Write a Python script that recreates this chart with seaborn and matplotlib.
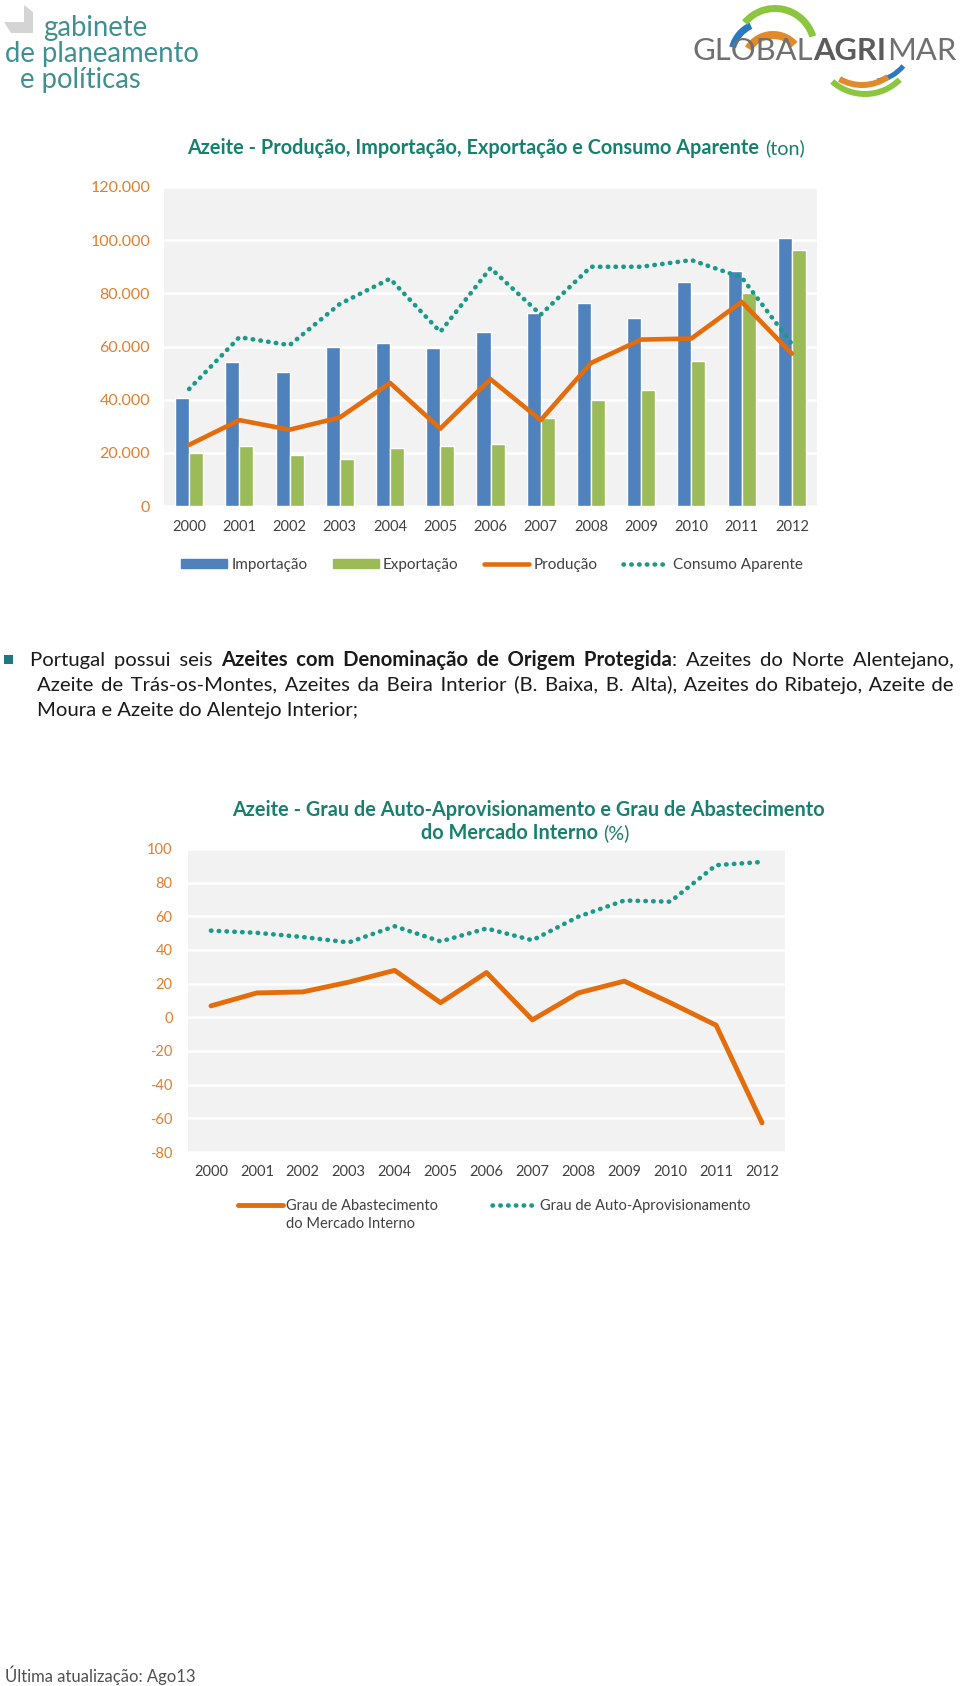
import matplotlib
matplotlib.use("Agg")
import matplotlib.pyplot as plt
import seaborn as sns
import numpy as np
import pandas as pd
from matplotlib.patches import Wedge, Polygon, Rectangle, Patch
from matplotlib.lines import Line2D
from matplotlib.ticker import FuncFormatter

# ---- data ----
years = ['2000', '2001', '2002', '2003', '2004', '2005', '2006',
         '2007', '2008', '2009', '2010', '2011', '2012']
importacao = [40800, 54100, 50500, 59800, 61400, 59400, 65400, 72700, 76400, 70700, 84400, 88500, 101000]
exportacao = [19800, 22600, 19000, 17800, 21800, 22600, 23400, 33100, 40000, 43600, 54500, 80200, 96300]
producao = [23000, 32300, 28700, 33300, 46300, 29100, 47700, 32300, 53800, 62600, 63000, 76800, 57300]
consumo = [44000, 63500, 60500, 76000, 85500, 65500, 89500, 72000, 90000, 90000, 92500, 86000, 61000]

abastecimento = [6.8, 14.5, 15.1, 20.9, 27.9, 8.7, 26.6, -1.5, 14.5, 21.5, 8.7, -4.7, -62.7]
auto_aprov = [51.5, 50.2, 47.7, 44.5, 54.1, 45.1, 52.8, 45.8, 59.8, 69.4, 68.7, 90.4, 92.3]

BLUE = '#4f81bd'
GREEN = '#9bbb59'
ORANGE = '#e46c0a'
TEAL = '#1b9a8a'
TITLE = '#17806f'
TICK_OR = '#e07f2e'
GREY_TXT = '#404040'
BAND = '#f2f2f2'
DOTS = (0, (0.1, 1.6))
HAIR = '\u200a'

sns.set_style("white")
plt.rcParams['font.family'] = ['Lato', 'DejaVu Sans']
plt.rcParams['axes.unicode_minus'] = False

W, H = 960, 1686
fig = plt.figure(figsize=(W / 100, H / 100), dpi=100)
fig.patch.set_facecolor('white')

# overlay in pixel coordinates (y down) for page text and logos
ov = fig.add_axes([0, 0, 1, 1])
ov.set_xlim(0, W)
ov.set_ylim(H, 0)
ov.axis('off')


def px_axes(left, top, right, bottom):
    return fig.add_axes([left / W, 1 - bottom / H, (right - left) / W, (bottom - top) / H])


fig.canvas.draw()
renderer = fig.canvas.get_renderer()


def text_w(s, size, weight='normal'):
    t = ov.text(0, 0, s, fontsize=size, fontweight=weight)
    w = t.get_window_extent(renderer=renderer).width
    t.remove()
    return w


def space_w(size, weight='normal'):
    return text_w('n n', size, weight) - text_w('nn', size, weight)


def hair_w(size, weight='normal'):
    return (text_w('n' + HAIR * 10 + 'n', size, weight) - text_w('nn', size, weight)) / 10


def words(s, weight='normal'):
    return [(w, weight, False) for w in s.split()]


def segments(tokens, extra):
    # group tokens into runs of equal weight; extra[i] = hair spaces in gap i
    segs, gaps = [], []
    g = 0
    for i, (txt, wt, attach) in enumerate(tokens):
        sep = ''
        if i > 0 and not attach:
            sep = ' ' + HAIR * extra[g]
            g += 1
        if segs and segs[-1][1] == wt:
            segs[-1][0] += sep + txt
        else:
            segs.append([txt, wt])
            gaps.append(sep)
    return segs, gaps


def sep_w(sep, size):
    if not sep:
        return 0.0
    return space_w(size) + (len(sep) - 1) * hair_w(size)


def line_w(tokens, size, extra=None):
    n = sum(1 for i, t in enumerate(tokens) if i > 0 and not t[2])
    segs, gaps = segments(tokens, extra or [0] * n)
    return sum(text_w(s, size, w) for s, w in segs) + sum(sep_w(g, size) for g in gaps)


def draw_line(x, y, tokens, size, color, extra=None):
    # y is the baseline
    n = sum(1 for i, t in enumerate(tokens) if i > 0 and not t[2])
    segs, gaps = segments(tokens, extra or [0] * n)
    for (s, w), g in zip(segs, gaps):
        x += sep_w(g, size)
        ov.text(x, y, s, fontsize=size, fontweight=w, color=color, va='baseline', ha='left')
        x += text_w(s, size, w)


def draw_centered(cx, y, tokens, size, color):
    draw_line(cx - line_w(tokens, size) / 2, y, tokens, size, color)


def draw_justified(x0, x1, y, tokens, size, color):
    n = sum(1 for i, t in enumerate(tokens) if i > 0 and not t[2])
    total = int(round((x1 - x0 - line_w(tokens, size)) / hair_w(size)))
    total = max(total, 0)
    extra = [total // n + (1 if i < total % n else 0) for i in range(n)]
    draw_line(x0, y, tokens, size, color, extra)


def fit_size(tokens, width, ref=10):
    return ref * width / line_w(tokens, ref)


# ---- logos ----
ov.add_patch(Polygon([(4, 22), (24, 22), (24, 5), (33, 12), (33, 33), (11, 33)],
                     closed=True, color='#d4d4d4', lw=0))
logo_c = '#3f9091'
ls = fit_size(words('de planeamento'), 195)
draw_line(43, 36, words('gabinete'), ls, logo_c)
draw_line(5, 62, words('de planeamento'), ls, logo_c)
draw_line(20, 88, words('e políticas'), ls, logo_c)

ov.add_patch(Wedge((765, 56), 37, 195, 245, width=7, color='#2a78c2', lw=0))
ov.add_patch(Wedge((773, 64), 33, 212, 318, width=8, color='#e08a2a', lw=0))
ov.add_patch(Wedge((775, 48), 43, 220, 343, width=7, color='#8cc63f', lw=0))
ov.add_patch(Wedge((870, 38), 46, 40, 80, width=5, color='#2a78c2', lw=0))
ov.add_patch(Wedge((862, 40), 48, 55, 120, width=6, color='#e08a2a', lw=0))
ov.add_patch(Wedge((865, 45), 52, 45, 132, width=6, color='#8cc63f', lw=0))
glob = [('GLOBAL', 'normal', False), ('AGRI', 'bold', True), ('MAR', 'normal', True)]
gs = fit_size(glob, 262)
x = 693
for s, w, _ in glob:
    ov.text(x, 60, s, fontsize=gs, fontweight=w, va='baseline', ha='left',
            color='#5c5c5c' if w == 'bold' else '#707070')
    x += text_w(s, gs, w)

# ---- chart 1 ----
t1 = words('Azeite - Produção, Importação, Exportação e Consumo Aparente', 'bold') + words('(ton)')
ts = fit_size(t1, 615)
draw_centered(496, 154, t1, ts, TITLE)

ax1 = px_axes(164, 187, 817, 506)
ax1.set_facecolor(BAND)
df = pd.DataFrame({
    'ano': years * 2,
    'valor': importacao + exportacao,
    'serie': ['Importação'] * len(years) + ['Exportação'] * len(years),
})
sns.barplot(data=df, x='ano', y='valor', hue='serie', palette=[BLUE, GREEN],
            width=0.56, saturation=1, legend=False, ax=ax1, zorder=2)
pos = np.arange(len(years))
sns.lineplot(x=pos, y=producao, color=ORANGE, linewidth=3.3, ax=ax1, zorder=3)
sns.lineplot(x=pos, y=consumo, color=TEAL, linewidth=3.3, linestyle=DOTS,
             dash_capstyle='round', ax=ax1, zorder=3)
ax1.set_xlim(-0.5, len(years) - 0.5)
ax1.set_ylim(0, 120000)
ax1.set_yticks(np.arange(0, 120001, 20000))
ax1.yaxis.set_major_formatter(FuncFormatter(lambda v, p: f"{int(v):,}".replace(',', '.')))
ax1.set_xticks(pos)
ax1.set_xticklabels(years)
ax1.set_xlabel('')
ax1.set_ylabel('')
ax1.yaxis.grid(True, color='white', linewidth=1.8)
ax1.set_axisbelow(True)
for sp in ax1.spines.values():
    sp.set_visible(False)
ax1.tick_params(axis='y', length=0, pad=10, labelsize=11.5, labelcolor=TICK_OR)
ax1.tick_params(axis='x', length=0, pad=10, labelsize=10.5, labelcolor=GREY_TXT)

h1 = [Patch(color=BLUE), Patch(color=GREEN),
      Line2D([], [], color=ORANGE, lw=3.3),
      Line2D([], [], color=TEAL, lw=3.3, linestyle=DOTS, dash_capstyle='round')]
fig.legend(h1, ['Importação', 'Exportação', 'Produção', 'Consumo Aparente'],
           loc='center', bbox_to_anchor=(492 / W, 1 - 565 / H), ncol=4, frameon=False,
           fontsize=11, handlelength=3.0, handleheight=0.6, handletextpad=0.27,
           columnspacing=1.65, labelcolor=GREY_TXT)

# ---- paragraph ----
l1 = (words('Portugal possui seis') + words('Azeites com Denominação de Origem Protegida', 'bold')
      + [(':', 'normal', True)] + words('Azeites do Norte Alentejano,'))
l2 = words('Azeite de Trás-os-Montes, Azeites da Beira Interior (B. Baixa, B. Alta), '
           'Azeites do Ribatejo, Azeite de')
l3 = words('Moura e Azeite do Alentejo Interior;')
ps = fit_size(l2, 0.965 * (954 - 37))
ov.add_patch(Rectangle((4, 655), 9, 9, color='#1f7a80', lw=0))
draw_justified(30, 954, 666, l1, ps, '#1a1a1a')
draw_justified(37, 954, 691, l2, ps, '#1a1a1a')
draw_line(37, 716, l3, ps, '#1a1a1a')

# ---- chart 2 ----
t2a = words('Azeite - Grau de Auto-Aprovisionamento e Grau de Abastecimento', 'bold')
t2b = words('do Mercado Interno', 'bold') + words('(%)')
draw_centered(528, 816, t2a, ts, TITLE)
draw_centered(525, 839, t2b, ts, TITLE)

ax2 = px_axes(188, 849, 785, 1152)
ax2.set_facecolor(BAND)
sns.lineplot(x=pos, y=abastecimento, color=ORANGE, linewidth=3.5, ax=ax2, zorder=3)
sns.lineplot(x=pos, y=auto_aprov, color=TEAL, linewidth=3.3, linestyle=DOTS,
             dash_capstyle='round', ax=ax2, zorder=3)
ax2.set_xlim(-0.5, len(years) - 0.5)
ax2.set_ylim(-80, 100)
ax2.set_yticks(np.arange(-80, 101, 20))
ax2.set_xticks(pos)
ax2.set_xticklabels(years)
ax2.yaxis.grid(True, color='white', linewidth=1.8)
ax2.set_axisbelow(True)
for sp in ax2.spines.values():
    sp.set_visible(False)
ax2.tick_params(axis='y', length=0, pad=11, labelsize=10.5, labelcolor=TICK_OR)
ax2.tick_params(axis='x', length=0, pad=9, labelsize=10.5, labelcolor=GREY_TXT)

h2 = [Line2D([], [], color=ORANGE, lw=3.5),
      Line2D([], [], color=TEAL, lw=3.3, linestyle=DOTS, dash_capstyle='round')]
leg2 = fig.legend(h2, ['Grau de Abastecimento', 'Grau de Auto-Aprovisionamento'],
                  loc='center', bbox_to_anchor=(494 / W, 1 - 1206 / H), ncol=2, frameon=False,
                  fontsize=10.5, handlelength=3.1, handletextpad=0.2, columnspacing=3.7,
                  labelcolor=GREY_TXT)
fig.canvas.draw()
bb = leg2.get_texts()[0].get_window_extent(renderer=fig.canvas.get_renderer())
ov.text(bb.x0, H - (bb.y0 + bb.y1) / 2 + 18, 'do Mercado Interno', fontsize=10.5,
        color=GREY_TXT, va='center', ha='left')

# ---- footer ----
ov.text(5, 1675, 'Última atualização: Ago13', fontsize=12, color='#505050', va='center', ha='left')

fig.savefig('out.png', dpi=100, facecolor='white')
